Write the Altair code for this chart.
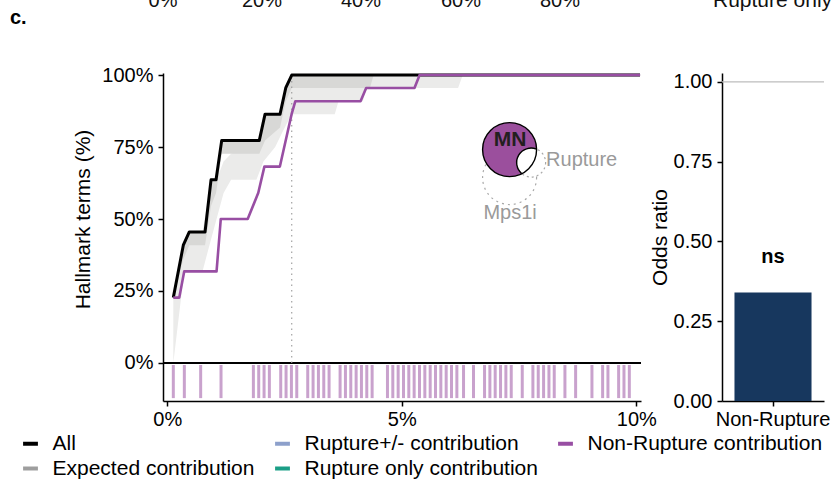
import math
import altair as alt
import pandas as pd

FONT = "Liberation Sans"

# ---------------- data ----------------
# cumulative hallmark-term curves (x: % of ranked genes, y: fraction of terms)
all_x = [0.128, 0.341, 0.469, 0.804, 0.932, 1.039, 1.16, 1.962, 2.084, 2.404, 2.525, 2.653, 10.08]
all_y = [0.227, 0.409, 0.455, 0.455, 0.636, 0.636, 0.773, 0.773, 0.864, 0.864, 0.955, 1.0, 1.0]

nonrup_x = [0.128, 0.255, 0.36, 1.05, 1.14, 1.714, 1.94, 2.07, 2.40, 2.65, 2.73, 4.12, 4.24, 5.27, 5.38, 10.08]
nonrup_y = [0.227, 0.227, 0.318, 0.318, 0.5, 0.5, 0.591, 0.682, 0.682, 0.864, 0.909, 0.909, 0.955, 0.955, 1.0, 1.0]

# expected-contribution envelopes
light_x = [0.128, 0.36, 0.47, 0.75, 0.90, 1.05, 1.20, 1.36, 1.90, 2.05, 2.30, 2.45, 2.65, 3.57, 3.65, 4.17, 4.25, 4.32, 6.20, 6.30]
light_lo = [0.0, 0.318, 0.318, 0.318, 0.41, 0.50, 0.59, 0.636, 0.636, 0.70, 0.75, 0.80, 0.864, 0.864, 0.909, 0.909, 0.955, 0.955, 0.955, 1.0]
light_hi = [0.227, 0.409, 0.455, 0.455, 0.60, 0.636, 0.70, 0.727, 0.773, 0.80, 0.864, 0.864, 1.0, 1.0, 1.0, 1.0, 1.0, 1.0, 1.0, 1.0]

dark_x = [0.128, 0.341, 0.469, 0.804, 0.932, 1.039, 1.16, 1.962, 2.084, 2.404, 2.525, 2.653, 4.32, 4.40]
dark_lo = [0.227, 0.36, 0.409, 0.409, 0.545, 0.59, 0.727, 0.727, 0.773, 0.818, 0.909, 0.955, 0.955, 1.0]
dark_hi = [0.227, 0.409, 0.455, 0.455, 0.636, 0.636, 0.773, 0.773, 0.864, 0.864, 0.955, 1.0, 1.0, 1.0]

# rug of gene positions (% of ranked genes)
rug_x = [0.128, 0.363, 0.711, 1.145, 1.835, 1.949, 2.063, 2.176, 2.418, 2.532, 2.646, 2.760,
         2.994, 3.108, 3.222, 3.336, 3.449, 3.684, 3.798, 3.912, 4.026, 4.139, 4.253, 4.367,
         4.694, 4.808, 4.922, 5.036, 5.149, 5.263, 5.377, 5.491, 5.605, 5.718, 5.832, 5.946,
         6.060, 6.174, 6.316, 6.529, 6.764, 6.878, 6.991, 7.105, 7.219, 7.333, 7.568, 7.795,
         7.909, 8.023, 8.137, 8.250, 8.478, 8.706, 9.054, 9.282, 9.395, 9.623, 9.737, 9.851]

cutoff_x = [2.653]

# odds ratio panel
or_cat = ["Non-Rupture"]
or_val = [0.34]
or_sig = ["ns"]

# legend (column-major order: 2 rows x 3 columns)
legend_names = ["All", "Expected contribution", "Rupture+/- contribution",
                "Rupture only contribution", "Non-Rupture contribution"]
legend_colors = ["#000000", "#9e9e9e", "#8da0cb", "#1b9e86", "#984ea3"]

# venn inset (data coordinates)
venn_labels = ["MN", "Rupture", "Mps1i"]
venn_cx = [7.298, 7.757, 7.298]
venn_cy = [0.741, 0.696, 0.644]
venn_r = [27, 14.5, 27]          # radius in px
venn_text_x = [7.309, 8.076, 7.309]
venn_text_y = [0.774, 0.705, 0.521]

# clipped labels from the panel above
top_labels = ["0%", "20%", "40%", "60%", "80%"]
top_label_px = [0, 99, 198, 298, 397]

# ---------------- scales / axes ----------------
XD = [-0.092, 10.1]
YD = [-0.132, 1.007]
W, H = 478, 328
PX_X = W / (XD[1] - XD[0])
PX_Y = H / (YD[1] - YD[0])

xs = alt.Scale(domain=XD, nice=False, zero=False)
ys = alt.Scale(domain=YD, nice=False, zero=False)

axis_common = dict(grid=False, domainColor="black", domainWidth=1.5, tickColor="black",
                   tickWidth=1.5, tickSize=5, labelFontSize=20, labelFont=FONT,
                   labelColor="black", titleFont=FONT, titleFontSize=21,
                   titleFontWeight="normal", titleColor="black")

xaxis = alt.Axis(values=[0, 5, 10], labelExpr="datum.value + '%'", title=None,
                 labelPadding=3, labelFlush=False, **axis_common)
yaxis = alt.Axis(values=[0, 0.25, 0.5, 0.75, 1.0], format=".0%", title="Hallmark terms (%)",
                 labelPadding=5, titleX=-70, titleY=146, titleAngle=-90,
                 titleBaseline="bottom", titleAlign="center", **axis_common)

X = alt.X("x:Q", scale=xs, axis=xaxis)
Y = alt.Y("y:Q", scale=ys, axis=yaxis)

# ---------------- left panel ----------------
light_df = pd.DataFrame({"x": light_x, "y": light_lo, "y2": light_hi})
dark_df = pd.DataFrame({"x": dark_x, "y": dark_lo, "y2": dark_hi})

light = alt.Chart(light_df).mark_area(color="#ebebea", interpolate="linear").encode(x=X, y=Y, y2="y2:Q")
dark = alt.Chart(dark_df).mark_area(color="#d8d8d6", interpolate="linear").encode(x=X, y=Y, y2="y2:Q")

rug_df = pd.DataFrame({"x": rug_x, "y": [-0.007] * len(rug_x), "y2": [-0.122] * len(rug_x)})
rug = alt.Chart(rug_df).mark_rule(color="#c9a2cd", strokeWidth=3).encode(x=X, y=Y, y2="y2:Q")

zero_rule = alt.Chart(pd.DataFrame({"v": [0]})).mark_rule(color="black", strokeWidth=2.2).encode(
    y=alt.datum(0, scale=ys))

cut_df = pd.DataFrame({"x": cutoff_x, "y": [0.0], "y2": [1.0]})
cut = alt.Chart(cut_df).mark_rule(color="#9a9a9a", strokeWidth=1.1, strokeDash=[1.5, 4]).encode(
    x=X, y=Y, y2="y2:Q")

color = alt.Color("series:N", scale=alt.Scale(domain=legend_names, range=legend_colors),
                  legend=alt.Legend(orient="none", legendX=-143, legendY=360, columns=3,
                                    title=None, symbolType="stroke", symbolStrokeWidth=4,
                                    symbolSize=220, labelFont=FONT, labelFontSize=21,
                                    labelColor="black", labelOffset=11.5, columnPadding=12,
                                    rowPadding=3, symbolOffset=0, padding=0, labelLimit=400))

all_df = pd.DataFrame({"x": all_x, "y": all_y, "series": "All", "i": range(len(all_x))})
nr_df = pd.DataFrame({"x": nonrup_x, "y": nonrup_y, "series": "Non-Rupture contribution",
                      "i": range(len(nonrup_x))})
line_all = alt.Chart(all_df).mark_line(strokeWidth=3, strokeJoin="round").encode(
    x=X, y=Y, color=color, order="i:Q")
line_nr = alt.Chart(nr_df).mark_line(strokeWidth=2.6, strokeJoin="round").encode(
    x=X, y=Y, color=color, order="i:Q")

# venn inset
venn_df = pd.DataFrame({"x": venn_cx, "y": venn_cy, "r": venn_r, "lab": venn_labels})
mn = venn_df.iloc[[0]]
rp = venn_df.iloc[[1]]
mp = venn_df.iloc[[2]]


def size_of(r):
    return (2 * r) ** 2


mps_circle = alt.Chart(mp).mark_point(shape="circle", filled=False, size=size_of(venn_r[2]),
                                       color="#a8a8a8", strokeWidth=1.2, strokeDash=[2, 4],
                                       opacity=1).encode(x=X, y=Y)
mn_fill = alt.Chart(mn).mark_point(shape="circle", filled=True, size=size_of(venn_r[0]),
                                    color="#9b4f9d", opacity=1, strokeWidth=0).encode(x=X, y=Y)
rp_fill = alt.Chart(rp).mark_point(shape="circle", filled=True, size=size_of(venn_r[1]),
                                    color="white", opacity=1, strokeWidth=0).encode(x=X, y=Y)
rp_dash = alt.Chart(rp).mark_point(shape="circle", filled=False, size=size_of(venn_r[1]),
                                    color="#a8a8a8", strokeWidth=1.2, strokeDash=[2, 3],
                                    opacity=1).encode(x=X, y=Y)
mn_stroke = alt.Chart(mn).mark_point(shape="circle", filled=False, size=size_of(venn_r[0]),
                                      color="black", strokeWidth=1.4, opacity=1).encode(x=X, y=Y)

# inner arc of the Rupture circle that lies inside MN
x1p, y1p = venn_cx[0] * PX_X, -venn_cy[0] * PX_Y
x2p, y2p = venn_cx[1] * PX_X, -venn_cy[1] * PX_Y
dxp, dyp = x1p - x2p, y1p - y2p
d = math.hypot(dxp, dyp)
r1, r2 = venn_r[0], venn_r[1]
theta_c = math.atan2(dxp, -dyp)
phi = math.acos(max(-1.0, min(1.0, (d * d + r2 * r2 - r1 * r1) / (2 * d * r2))))
t1 = theta_c - phi
t2 = theta_c + phi
while t1 < 0:
    t1 += 2 * math.pi
    t2 += 2 * math.pi
lune_arc = alt.Chart(rp).mark_arc(theta=t1, theta2=t2, radius=r2 + 0.7, radius2=r2 - 0.7,
                                  color="black").encode(x=X, y=Y)

vt_df = pd.DataFrame({"x": venn_text_x, "y": venn_text_y, "lab": venn_labels})
mn_text = alt.Chart(vt_df.iloc[[0]]).mark_text(font=FONT, fontSize=21, fontWeight="bold",
                                               color="#231f20", baseline="middle").encode(
    x=X, y=Y, text="lab:N")
rp_text = alt.Chart(vt_df.iloc[[1]]).mark_text(font=FONT, fontSize=20, color="#9a9a9a",
                                               align="left", baseline="middle").encode(
    x=X, y=Y, text="lab:N")
mp_text = alt.Chart(vt_df.iloc[[2]]).mark_text(font=FONT, fontSize=20, color="#9a9a9a",
                                               baseline="middle").encode(
    x=X, y=Y, text="lab:N")

# panel tag and clipped text of the panel above
tag = alt.Chart(pd.DataFrame({"t": ["c."]})).mark_text(
    font=FONT, fontSize=20, fontWeight="bold", align="left", baseline="middle", color="black"
).encode(x=alt.value(-153), y=alt.value(-55), text="t:N")

top_df = pd.DataFrame({"t": top_labels, "px": top_label_px})
top_txt = alt.Chart(top_df).mark_text(font=FONT, fontSize=20, baseline="alphabetic",
                                      color="#111111").encode(
    x=alt.X("px:Q", scale=None), y=alt.value(-66), text="t:N")
top_txt2 = alt.Chart(pd.DataFrame({"t": ["Rupture only"]})).mark_text(
    font=FONT, fontSize=21, baseline="alphabetic", align="left", color="#111111"
).encode(x=alt.value(550), y=alt.value(-66), text="t:N")

left = alt.layer(light, dark, rug, zero_rule, cut, line_all, line_nr,
                 mps_circle, mn_fill, rp_fill, rp_dash, mn_stroke, lune_arc,
                 mn_text, rp_text, mp_text, tag, top_txt, top_txt2).properties(width=W, height=H)

# ---------------- right panel ----------------
RY = alt.Y("y:Q", scale=alt.Scale(domain=[0, 1.028], nice=False, zero=True),
           axis=alt.Axis(values=[0, 0.25, 0.5, 0.75, 1.0], format=".2f", title="Odds ratio",
                         labelPadding=5, titleX=-52, titleY=164, titleAngle=-90,
                         titleBaseline="bottom", titleAlign="center", **axis_common))
RX = alt.X("cat:N", scale=alt.Scale(paddingInner=0, paddingOuter=0.162),
           axis=alt.Axis(title=None, labelAngle=0, labelPadding=3, **axis_common))

or_df = pd.DataFrame({"cat": or_cat, "y": or_val, "sig": or_sig})
bar = alt.Chart(or_df).mark_bar(color="#17375e").encode(x=RX, y=RY)
one_rule = alt.Chart(pd.DataFrame({"v": [1]})).mark_rule(color="#bdbdbd", strokeWidth=1.3).encode(
    y=alt.datum(1))
ns_df = pd.DataFrame({"cat": or_cat, "y": [0.45], "sig": or_sig})
ns = alt.Chart(ns_df).mark_text(font=FONT, fontSize=20, fontWeight="bold", color="black",
                                baseline="middle").encode(x=RX, y=RY, text="sig:N")

right = alt.layer(one_rule, bar, ns).properties(width=102, height=H)

chart = alt.hconcat(left, right, spacing=81, bounds="flush").properties(
    padding={"left": 10, "top": -10, "right": 0, "bottom": 0},
    background="white",
).configure_view(stroke=None)

chart.save("out.html", embed_options={"renderer": "svg", "actions": False})
